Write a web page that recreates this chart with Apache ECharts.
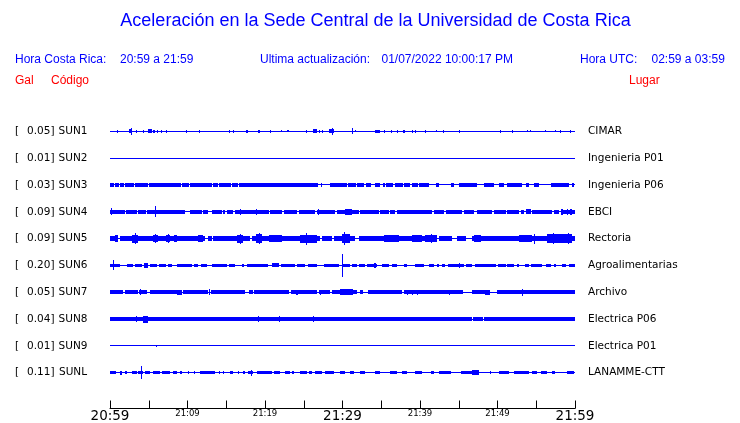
<!DOCTYPE html>
<html><head><meta charset="utf-8">
<script src="https://cdn.jsdelivr.net/npm/echarts@6/dist/echarts.min.js"></script>
<style>html,body{margin:0;padding:0;background:#fff}#c{width:740px;height:423px}</style>
</head><body><div id="c"></div>
<script>
// ---------- data ----------
const titleText = 'Aceleración en la Sede Central de la Universidad de Costa Rica';
const localLabel = 'Hora Costa Rica:';
const localRange = '20:59 a 21:59';
const updateLabel = 'Ultima actualización:';
const updateValue = '01/07/2022 10:00:17 PM';
const utcLabel = 'Hora UTC:';
const utcRange = '02:59 a 03:59';
const headGal = 'Gal', headCode = 'Código', headPlace = 'Lugar';

const codes = ['SUN1','SUN2','SUN3','SUN4','SUN5','SUN6','SUN7','SUN8','SUN9','SUNL'];
const galValues = ['0.05','0.01','0.03','0.09','0.09','0.20','0.05','0.04','0.01','0.11'];
const places = ['CIMAR','Ingenieria P01','Ingenieria P06','EBCI','Rectoria','Agroalimentarias','Archivo','Electrica P06','Electrica P01','LANAMME-CTT'];

// time axis: minutes after 20:59
const timeWindow = [0, 60];
const timeLabels = ['20:59','21:04','21:09','21:14','21:19','21:24','21:29','21:34','21:39','21:44','21:49','21:54','21:59'];
const bigLabels = ['20:59','21:29','21:59'];
const smallLabels = ['21:09','21:19','21:39','21:49'];

// trace envelopes: [start min, end min, half amplitude]
const sun1 = [[0.9,1.05,1.5],[2.45,2.85,2],[2.65,2.75,3.5],[3.3,3.45,1.5],[4.2,4.35,1.5],[4.85,5.4,2],[5.6,5.75,1.5],[6.0,6.15,1.5],[6.6,6.75,1.5],[7.2,7.35,1.5],[9.8,9.95,1.5],[11.5,11.6,1.5],[15.35,15.5,1.5],[15.9,16.05,1.5],[17.6,17.75,1.5],[19.1,19.35,1.5],[20.6,20.75,1.5],[22.0,22.15,1],[22.9,23.05,1],[25.3,25.45,1.5],[26.25,26.7,2],[27.0,27.1,1.5],[27.3,27.4,1.5],[28.2,28.85,2],[28.6,28.7,3.5],[31.2,31.35,3],[31.6,31.75,1],[34.2,34.9,1.5],[35.35,35.5,1.5],[36.25,36.4,1.5],[37.0,37.1,1.5],[37.85,38.0,1.5],[39.0,39.1,1.5],[39.35,39.45,1.5],[40.6,40.7,1.5],[42.1,42.2,1],[43.0,43.1,1.5],[45.05,45.15,1.5],[50.3,50.45,1.5],[51.9,52.0,1.5],[53.8,53.9,1],[54.2,54.3,1],[56.15,56.25,1],[57.4,57.5,1],[58.1,58.2,1.5],[59.3,59.4,1.5]];
const sun2 = [];
const sun3 = [[0,0.5,1.8],[0.65,1.15,1.8],[1.3,1.8,1.8],[1.95,3.1,1.8],[3.2,4.9,1.8],[5.0,9.15,1.8],[9.3,10.2,1.8],[10.3,13.15,1.8],[13.3,13.95,1.8],[14.05,15.6,1.8],[15.75,16.5,1.8],[16.65,26.85,1.8],[27.2,27.4,1.8],[28.4,30,1.8],[30.05,30.6,1.8],[30.7,31.75,1.8],[31.85,32.75,1.8],[33.05,33.7,1.8],[34.2,34.85,1.8],[35.2,35.5,1.8],[35.6,36.5,1.8],[36.75,37.8,1.8],[37.95,38.7,1.8],[38.95,39.75,1.8],[39.85,41.15,1.8],[42.05,42.45,1.8],[44,44.4,1.8],[45.05,47.35,1.8],[48.25,49.55,1.8],[50.2,50.85,1.8],[51.2,53.15,1.8],[53.7,54.05,1.8],[54.7,55.35,1.8],[56.9,59.2,1.8],[59.6,59.85,1.8]];
const sun4 = [[0,1.95,1.8],[0.15,0.3,3.5],[2.05,3.5,1.8],[3.6,4.65,1.8],[4.75,9.7,1.8],[5.75,5.9,5.5],[10.3,11.85,1.8],[12.05,12.7,1.8],[13.1,14.4,1.8],[14.6,14.85,1.8],[15.05,15.9,1.8],[16.1,20.5,1.8],[16.8,16.95,3],[18.85,19.0,3],[20.7,22.2,1.8],[22.4,24.1,1.8],[24.35,26.5,1.8],[26.7,29.05,1.8],[26.8,26.95,3],[29.3,32.1,1.8],[30.3,31.2,2.8],[32.3,34.65,1.8],[34.9,35.95,1.8],[36.15,36.8,1.8],[37.05,41.6,1.8],[41.8,43.1,1.8],[43.3,45.45,1.8],[45.7,46.95,1.8],[47.4,49.35,1.8],[49.55,51.05,1.8],[51.25,52.75,1.8],[53.0,53.4,1.8],[53.65,54.3,2.5],[54.5,57.05,1.8],[57.3,57.95,1.8],[58.15,60,1.8],[58.25,58.4,2.8],[58.95,59.1,2.8],[59.4,59.55,2.8]];
const sun5 = [[0,1.0,2.7],[1.3,12.25,2.7],[12.7,13.1,2.7],[13.35,18.05,2.7],[18.3,27.15,2.7],[27.35,28.65,2.7],[28.85,31.65,2.7],[32.1,42.25,2.7],[42.45,44.15,2.7],[44.8,45.9,2.7],[46.75,60,2.7],
  [0.6,1.0,3.5],[2.8,3.6,4],[3.2,3.35,5.5],[5.5,6.2,3.5],[5.75,5.85,4.5],[7.2,7.75,3.5],[7.45,7.55,4.5],[8.25,8.65,3.5],[11.35,12.0,3.5],[16.4,17.15,4],[16.75,16.85,5],[18.85,19.6,4.5],[19.2,19.3,5.5],[20.5,22.2,3.5],[24.5,26.7,4],[25.25,25.35,6],[29.95,30.95,4.5],[30.15,30.25,6.5],[35.35,37.3,3.8],[38.95,40.25,3.5],[40.65,42.2,3.5],[41.4,41.5,4.5],[47.0,47.85,3.5],[52.8,54.45,3.5],[54.7,54.8,5],[56.4,59.6,4.2],[57.1,57.2,5.5],[59.05,59.15,5.5]];
const sun6 = [[0,1.3,1.6],[0.35,0.5,5],[2.15,3.0,1.6],[3.2,4.1,1.6],[4.45,4.85,2.5],[5.15,6.0,1.6],[6.3,7.2,1.6],[7.5,7.95,1.6],[8.6,10.6,1.6],[10.9,11.4,1.6],[11.75,12.5,1.6],[13.1,15.05,1.6],[15.35,16.15,1.6],[17.05,17.3,1.6],[17.7,20.4,1.6],[20.9,21.75,2],[22.0,23.9,1.6],[24.15,25.2,1.6],[25.55,26.7,1.6],[27.55,29.5,1.6],[29.95,31.0,1.6],[29.95,30.1,12],[31.2,31.85,1.6],[32.1,32.9,1.6],[33.15,34.45,1.6],[34.1,34.3,2.5],[35.1,35.95,1.6],[36.4,37.05,1.6],[37.9,38.3,1.6],[39.3,40.5,1.6],[41.15,41.8,1.6],[42.25,42.45,1.6],[42.8,43.2,1.6],[43.65,45.65,1.6],[45.0,45.15,2.8],[45.9,46.75,1.6],[47.1,49.75,1.6],[50.1,51.05,1.6],[51.25,52.1,1.6],[52.55,52.75,1.6],[53.55,54.05,1.6],[54.3,55.8,1.6],[56.2,56.85,1.6],[57.3,57.5,1.6],[58.35,58.8,1.6],[59.2,60,1.6]];
const sun7 = [[0,1.7,1.8],[1.95,3.65,1.8],[3.8,4.75,1.8],[3.9,4.05,2.8],[5.15,8.6,1.8],[8.6,9.25,2.5],[9.45,12.7,1.8],[12.75,12.85,2.8],[13.0,17.4,1.8],[17.9,18.4,1.8],[18.6,23.1,1.8],[23.3,26.75,1.8],[24.05,24.2,2.5],[26.95,28.4,1.8],[27.1,27.2,2.5],[28.6,31.85,1.8],[29.7,31.4,2.8],[32.25,32.7,1.8],[33.3,37.7,1.8],[37.9,45.6,1.8],[38.35,38.5,2.5],[39.0,39.15,2.5],[39.55,39.7,2.5],[43.7,43.85,2.5],[46.65,49.0,1.8],[48.45,49.0,2.5],[49.9,60,1.8],[53.1,53.25,3.5]];
const sun8 = [[0,46.65,2.1],[46.85,48.1,2.1],[48.25,60,2.1],[3.35,3.45,2.8],[4.3,4.85,3.5],[19.1,19.2,2.8],[21.75,21.85,3.2],[26.2,26.3,2.8]];
const sun9 = [[5.9,6.05,1.2]];
const sunL = [[0,0.75,1.5],[1.3,1.5,2],[1.95,2.15,1.5],[2.8,3.45,1.5],[3.65,4.3,1.5],[3.95,4.05,6.5],[4.5,5.15,1.5],[5.6,6.45,1.5],[6.75,7.8,1.5],[8.15,8.6,1.5],[9.05,9.25,1.5],[10.05,10.15,1.5],[10.9,11.0,1.5],[11.6,13.55,1.5],[14.0,14.2,1.5],[14.55,14.65,1.5],[15.5,15.9,1.5],[16.5,16.6,1.5],[17.2,17.4,1.5],[17.85,18.5,1.5],[18.15,18.25,3],[18.95,20.9,1.5],[21.1,21.95,1.5],[22.6,23.25,1.5],[23.5,23.7,1.5],[24.55,25.4,1.5],[25.65,26.05,1.5],[26.5,27.35,1.5],[27.8,28.85,1.5],[29.7,30.35,1.5],[31.0,31.45,1.5],[32.3,32.95,1.5],[34.25,34.9,1.5],[36.15,37.05,1.5],[37.7,38.3,1.5],[39.4,40.25,1.5],[41.4,41.8,1.5],[42.45,43.95,1.5],[45.25,46.75,1.5],[46.75,47.6,2.5],[49.05,49.15,1.5],[50.2,51.5,1.5],[52.1,54.05,1.5],[54.5,55.15,1.5],[55.6,56.45,1.5],[57.0,57.4,1.5],[59.0,59.85,1.5]];
const traces = [sun1, sun2, sun3, sun4, sun5, sun6, sun7, sun8, sun9, sunL];
const baselineAmp = 0.5;

// ---------- chart ----------
const ROW = 27;
const BLUE = '#0000ff';
const chart = echarts.init(document.getElementById('c'), null, {renderer: 'canvas'});

function renderItem(params, api) {
  const t0 = api.value(0), t1 = api.value(1), a = api.value(2), r = api.value(3);
  const yc = r * ROW;
  const p0 = api.coord([t0, yc - a]);
  const p1 = api.coord([t1, yc + a]);
  const x0 = Math.round(Math.min(p0[0], p1[0]));
  const w = Math.max(1, Math.round(Math.max(p0[0], p1[0])) - x0);
  const y0 = Math.round(Math.min(p0[1], p1[1]));
  const h = Math.max(1, Math.round(Math.max(p0[1], p1[1])) - y0);
  return {type: 'rect', shape: {x: x0, y: y0, width: w, height: h}, style: {fill: BLUE}};
}

const series = traces.map((segs, i) => ({
  type: 'custom',
  name: codes[i],
  renderItem: renderItem,
  encode: {x: [0, 1]},
  silent: true,
  animation: false,
  data: [[timeWindow[0], timeWindow[1], baselineAmp, i]].concat(segs.map(s => [s[0], s[1], s[2], i]))
}));

function rowIndex(v) {
  const idx = Math.round(v / ROW);
  if (Math.abs(idx * ROW - v) > 0.01 || idx < 0 || idx >= codes.length) return -1;
  return idx;
}

const yBase = {
  type: 'value', inverse: true, min: -ROW, max: 279, interval: ROW,
  axisLine: {show: false}, axisTick: {show: false}, splitLine: {show: false}
};

const txt = (text, x, y, color, size, align) => ({
  type: 'text', x: x, y: y, silent: true,
  style: {text: text, fill: color, font: size + 'px "Liberation Sans", Arial, sans-serif',
          textAlign: align || 'left', textVerticalAlign: 'middle'}
});

chart.setOption({
  animation: false,
  backgroundColor: '#fff',
  grid: {left: 110, right: 165, top: 104.5, height: 305, containLabel: false},
  xAxis: {
    type: 'value', min: timeWindow[0], max: timeWindow[1], interval: 5,
    axisLine: {show: true, onZero: false, lineStyle: {color: '#000', width: 1}},
    axisTick: {show: true, inside: true, length: 8, lineStyle: {color: '#000', width: 1}},
    splitLine: {show: false},
    axisLabel: {
      margin: 1, showMinLabel: true, showMaxLabel: true, hideOverlap: false,
      formatter: function (v) {
        const s = timeLabels[Math.round(v / 5)];
        if (bigLabels.indexOf(s) >= 0) return '{big|' + s + '}';
        if (smallLabels.indexOf(s) >= 0) return '{small|' + s + '}';
        return '';
      },
      rich: {
        big: {fontSize: 13.5, lineHeight: 13, fontFamily: 'DejaVu Sans', color: '#000'},
        small: {fontSize: 8.5, lineHeight: 9, fontFamily: 'DejaVu Sans', color: '#000'}
      }
    }
  },
  yAxis: [
    Object.assign({}, yBase, {
      position: 'left',
      axisLabel: {
        margin: 22,
        formatter: function (v) {
          const i = rowIndex(v);
          if (i < 0) return '';
          return '{b|[}{v|' + galValues[i] + '] }{c|' + codes[i] + '}';
        },
        rich: {
          b: {width: 12, align: 'left', fontSize: 10.5, fontFamily: 'DejaVu Sans', color: '#000'},
          v: {width: 31, align: 'right', fontSize: 10.5, fontFamily: 'DejaVu Sans', color: '#000'},
          c: {width: 30, align: 'left', fontSize: 10.5, fontFamily: 'DejaVu Sans', color: '#000'}
        }
      }
    }),
    Object.assign({}, yBase, {
      position: 'right',
      axisLabel: {
        margin: 13, fontSize: 10.5, fontFamily: 'DejaVu Sans', color: '#000',
        formatter: function (v) {
          const i = rowIndex(v);
          return i < 0 ? '' : places[i];
        }
      }
    })
  ],
  series: series,
  graphic: [
    txt(titleText, 375.5, 21, BLUE, 18, 'center'),
    txt(localLabel, 15, 60, BLUE, 12),
    txt(localRange, 120, 60, BLUE, 12),
    txt(updateLabel, 260, 60, BLUE, 12),
    txt(updateValue, 381.5, 60, BLUE, 12),
    txt(utcLabel, 580, 60, BLUE, 12),
    txt(utcRange, 651.5, 60, BLUE, 12),
    txt(headGal, 15, 81, '#ff0000', 12),
    txt(headCode, 51, 81, '#ff0000', 12),
    txt(headPlace, 629, 81, '#ff0000', 12)
  ]
});
</script>
</body></html>
